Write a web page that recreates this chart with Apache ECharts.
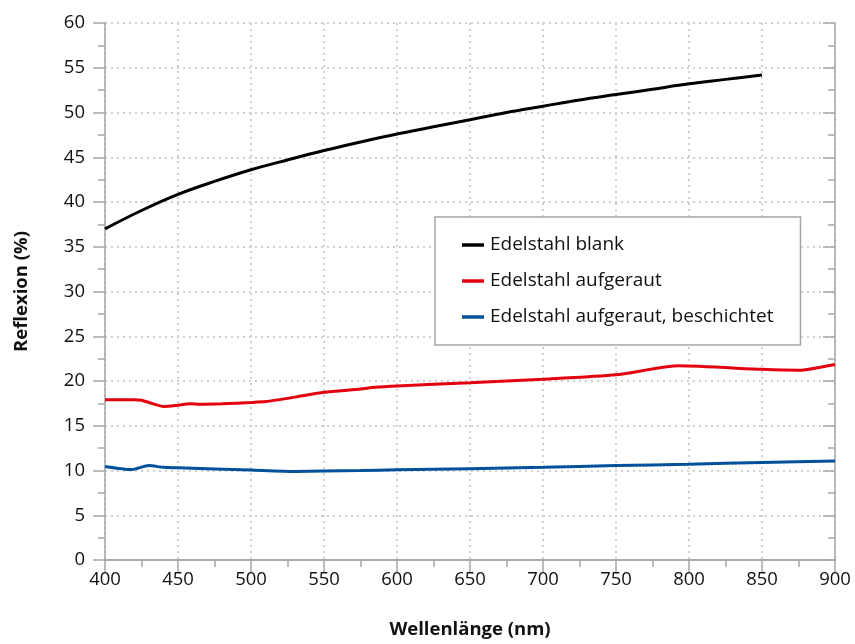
<!DOCTYPE html>
<html>
<head>
<meta charset="utf-8">
<script src="https://cdn.jsdelivr.net/npm/echarts@6/dist/echarts.min.js"></script>
<style>html,body{margin:0;padding:0;background:#fff}#c{width:855px;height:644px}</style>
</head>
<body>
<div id="c"></div>
<script>
// Data
const blankX = [400, 425, 450, 475, 500, 525, 550, 575, 600, 625, 650, 675, 700, 725, 750, 775, 800, 825, 850];
const blankY = [37.0, 39.05, 40.85, 42.3, 43.6, 44.7, 45.75, 46.7, 47.6, 48.4, 49.2, 50.0, 50.7, 51.4, 52.0, 52.6, 53.2, 53.7, 54.2];

const rauX = [400, 410, 420, 425, 432, 440, 450, 458, 465, 480, 500, 510, 530, 550, 575, 585, 600, 650, 700, 750, 793, 850, 875, 900];
const rauY = [17.9, 17.9, 17.9, 17.85, 17.5, 17.15, 17.3, 17.45, 17.4, 17.45, 17.6, 17.7, 18.2, 18.75, 19.1, 19.3, 19.45, 19.8, 20.2, 20.7, 21.7, 21.3, 21.2, 21.85];

const beschX = [400, 418, 430, 440, 450, 500, 530, 550, 575, 600, 650, 700, 750, 800, 850, 900];
const beschY = [10.45, 10.1, 10.55, 10.35, 10.3, 10.05, 9.9, 9.95, 10.0, 10.07, 10.2, 10.35, 10.55, 10.7, 10.9, 11.05];

const seriesNames = ['Edelstahl blank', 'Edelstahl aufgeraut', 'Edelstahl aufgeraut, beschichtet'];
const seriesColors = ['#000000', '#e3000f', '#00509b'];
const xTitle = 'Wellenlänge (nm)';
const yTitle = 'Reflexion (%)';

const pairs = (xs, ys) => xs.map((x, i) => [x, ys[i]]);

const FONT = 'Open Sans';
const axisGray = '#a6a6a6';
const LABEL_SIZE = 18.5;
const TITLE_SIZE = 18.5;

const chart = echarts.init(document.getElementById('c'), null, {renderer: 'canvas'});
chart.setOption({
  animation: false,
  textStyle: {fontFamily: FONT},
  grid: {left: 105, right: 20, top: 23, bottom: 81, containLabel: false},
  legend: {
    show: true,
    orient: 'vertical',
    left: 435, top: 217,
    padding: [18, 27, 18, 27],
    itemGap: 16,
    itemWidth: 22, itemHeight: 3.5,
    backgroundColor: '#fff',
    borderColor: '#a6a6a6', borderWidth: 1.5,
    icon: 'rect',
    textStyle: {fontFamily: FONT, fontSize: 19, lineHeight: 20, color: '#111', padding: [0, 0, 0, 1]},
    data: seriesNames
  },
  xAxis: [{
    type: 'value', min: 400, max: 900, interval: 50,
    name: xTitle, nameLocation: 'middle', nameGap: 60,
    nameTextStyle: {fontFamily: FONT, fontSize: TITLE_SIZE, fontWeight: 'bold', color: '#111'},
    axisLine: {show: true, lineStyle: {color: axisGray, width: 1.5}},
    axisTick: {show: true, length: 12, lineStyle: {color: axisGray, width: 1.5}},
    minorTick: {show: true, splitNumber: 2, length: 7, lineStyle: {color: axisGray, width: 1.5}},
    axisLabel: {fontFamily: FONT, fontSize: LABEL_SIZE, color: '#111', margin: 10},
    splitLine: {show: true, lineStyle: {color: '#cfcfcf', width: 2, type: [2, 4]}}
  }, {
    type: 'value', min: 400, max: 900, interval: 50, position: 'top',
    axisLine: {show: true, lineStyle: {color: axisGray, width: 1.5}},
    axisTick: {show: true, inside: true, length: 12, lineStyle: {color: axisGray, width: 1.5}},
    minorTick: {show: true, splitNumber: 2, length: 7, lineStyle: {color: axisGray, width: 1.5}},
    axisLabel: {show: false},
    splitLine: {show: false}
  }],
  yAxis: [{
    type: 'value', min: 0, max: 60, interval: 5,
    name: yTitle, nameLocation: 'middle', nameGap: 74,
    nameTextStyle: {fontFamily: FONT, fontSize: TITLE_SIZE, fontWeight: 'bold', color: '#111'},
    axisLine: {show: true, lineStyle: {color: axisGray, width: 1.5}},
    axisTick: {show: true, length: 12, lineStyle: {color: axisGray, width: 1.5}},
    minorTick: {show: true, splitNumber: 2, length: 7, lineStyle: {color: axisGray, width: 1.5}},
    axisLabel: {fontFamily: FONT, fontSize: LABEL_SIZE, color: '#111', margin: 20},
    splitLine: {show: true, lineStyle: {color: '#cfcfcf', width: 2, type: [2, 4]}}
  }, {
    type: 'value', min: 0, max: 60, interval: 5, position: 'right',
    axisLine: {show: true, lineStyle: {color: axisGray, width: 1.5}},
    axisTick: {show: true, inside: true, length: 12, lineStyle: {color: axisGray, width: 1.5}},
    minorTick: {show: true, splitNumber: 2, length: 7, lineStyle: {color: axisGray, width: 1.5}},
    axisLabel: {show: false},
    splitLine: {show: false}
  }],
  series: [
    {name: seriesNames[0], type: 'line', data: pairs(blankX, blankY), smooth: 0.4, showSymbol: false,
     lineStyle: {color: seriesColors[0], width: 3}, itemStyle: {color: seriesColors[0]}},
    {name: seriesNames[1], type: 'line', data: pairs(rauX, rauY), smooth: 0.2, showSymbol: false,
     lineStyle: {color: seriesColors[1], width: 3}, itemStyle: {color: seriesColors[1]}},
    {name: seriesNames[2], type: 'line', data: pairs(beschX, beschY), smooth: 0.2, showSymbol: false,
     lineStyle: {color: seriesColors[2], width: 3}, itemStyle: {color: seriesColors[2]}}
  ]
});
</script>
</body>
</html>
